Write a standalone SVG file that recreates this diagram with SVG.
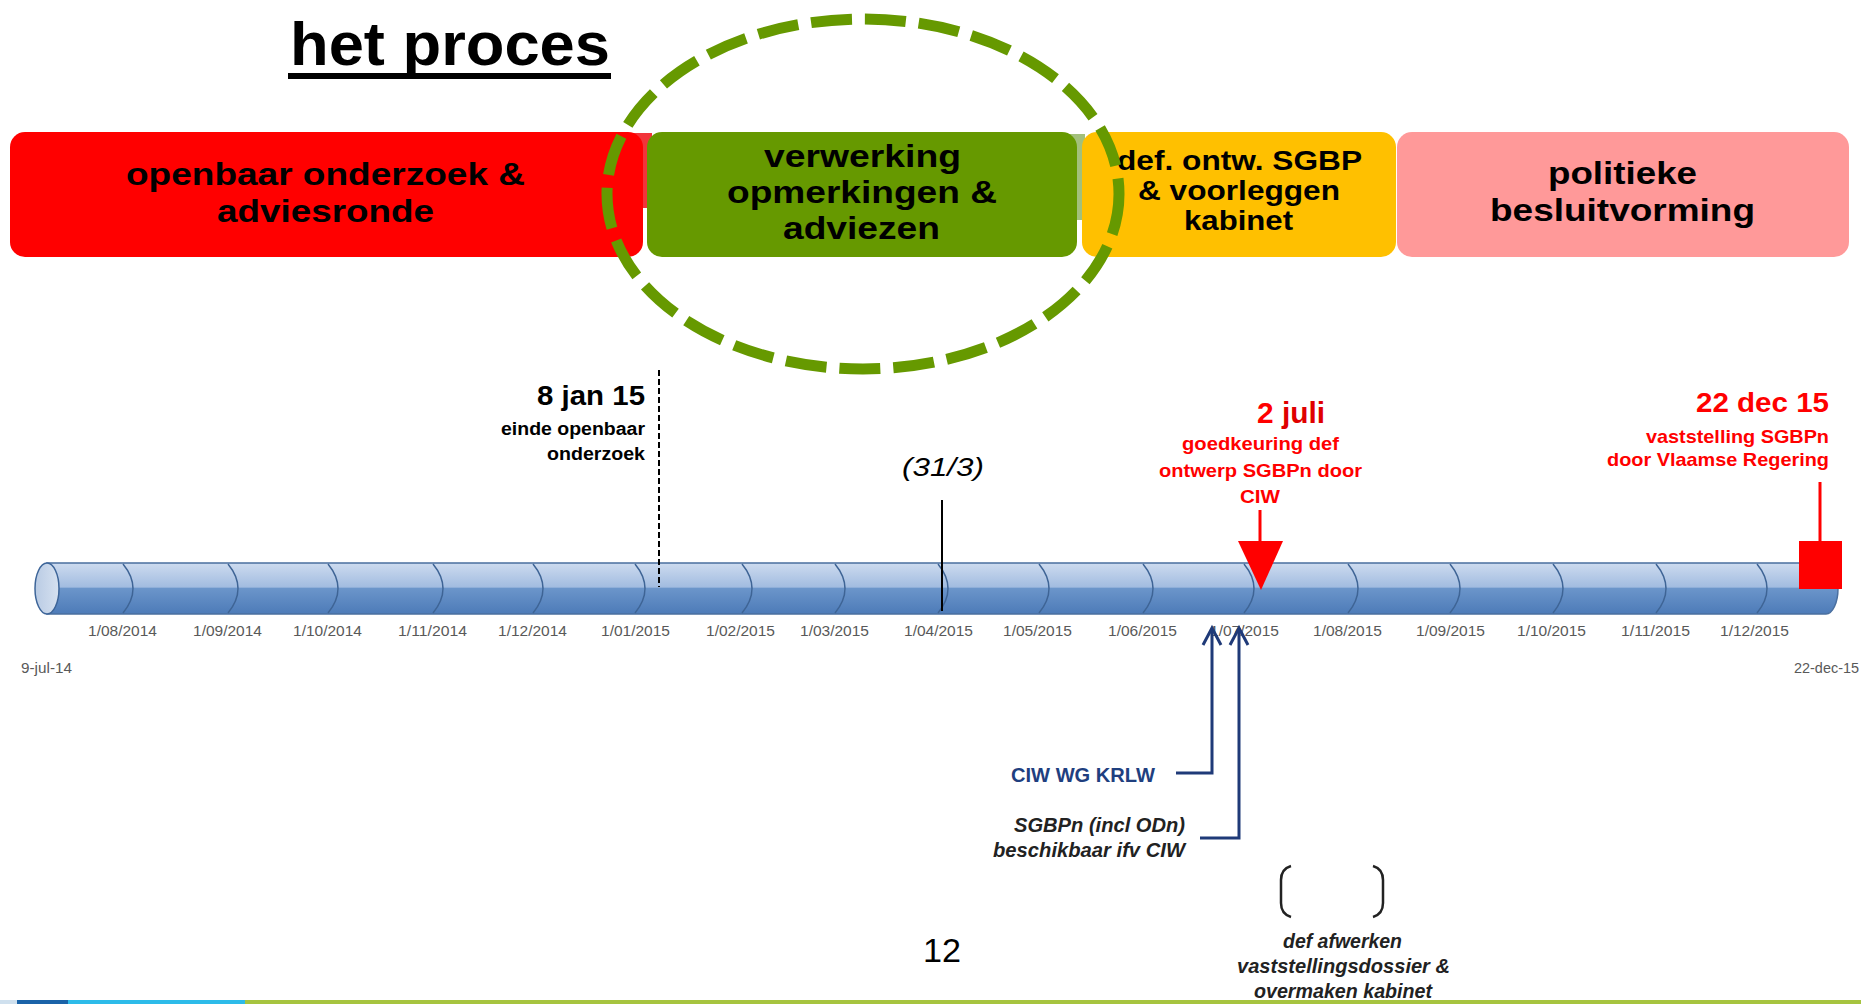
<svg xmlns="http://www.w3.org/2000/svg" width="1861" height="1004" viewBox="0 0 1861 1004">
<defs>
<linearGradient id="tube" x1="0" y1="0" x2="0" y2="1">
<stop offset="0" stop-color="#cddbef"/>
<stop offset="0.47" stop-color="#a2bce0"/>
<stop offset="0.5" stop-color="#6b95ca"/>
<stop offset="1" stop-color="#4d7bb8"/>
</linearGradient>
<linearGradient id="cap" x1="0" y1="0" x2="1" y2="0">
<stop offset="0" stop-color="#b9cbe4"/>
<stop offset="1" stop-color="#d6e1f0"/>
</linearGradient>
<style>
.t{font-family:"Liberation Sans",Arial,sans-serif}
.bx{font-family:"Liberation Sans",Arial,sans-serif;font-weight:bold;fill:#000;font-size:31px}
.yl{font-size:27px}
.dl{font-family:"Liberation Sans",Arial,sans-serif;font-size:15px;fill:#595959}
.rd{font-family:"Liberation Sans",Arial,sans-serif;font-weight:bold;fill:#ff0000}
.bi{font-family:"Liberation Sans",Arial,sans-serif;font-weight:bold;font-style:italic;fill:#222;font-size:20px}
.mon{fill:none;stroke:#3e6495;stroke-width:1.5}
.nav{fill:none;stroke:#1f3a78;stroke-width:3}
</style>
</defs>
<rect width="1861" height="1004" fill="#ffffff"/>

<g id="title">
<text class="t" x="290" y="65" font-size="62" font-weight="bold" textLength="320" lengthAdjust="spacingAndGlyphs">het proces</text>
<rect x="288" y="73" width="323" height="6" fill="#000"/>
</g>

<g id="phases">
<rect x="628" y="133" width="24" height="75" fill="#f2343a"/>
<rect x="1068" y="134" width="17" height="86" fill="#a3c07c"/>
<g id="phase-openbaar">
<rect x="10" y="132" width="633" height="125" rx="15" fill="#ff0000"/>
<text class="bx" x="126" y="185" textLength="399" lengthAdjust="spacingAndGlyphs">openbaar onderzoek &amp;</text>
<text class="bx" x="217" y="222" textLength="217" lengthAdjust="spacingAndGlyphs">adviesronde</text>
</g>
<g id="phase-verwerking">
<rect x="647" y="132" width="430" height="125" rx="15" fill="#669900"/>
<text class="bx" x="764" y="167" textLength="197" lengthAdjust="spacingAndGlyphs">verwerking</text>
<text class="bx" x="727" y="203" textLength="270" lengthAdjust="spacingAndGlyphs">opmerkingen &amp;</text>
<text class="bx" x="783" y="239" textLength="157" lengthAdjust="spacingAndGlyphs">adviezen</text>
</g>
<g id="phase-def">
<rect x="1082" y="132" width="314" height="125" rx="15" fill="#ffc000"/>
<text class="bx yl" x="1117" y="170" textLength="245" lengthAdjust="spacingAndGlyphs">def. ontw. SGBP</text>
<text class="bx yl" x="1138" y="200" textLength="202" lengthAdjust="spacingAndGlyphs">&amp; voorleggen</text>
<text class="bx yl" x="1184" y="230" textLength="109" lengthAdjust="spacingAndGlyphs">kabinet</text>
</g>
<g id="phase-politiek">
<rect x="1397" y="132" width="452" height="125" rx="15" fill="#ff9999"/>
<text class="bx" x="1548" y="184" textLength="149" lengthAdjust="spacingAndGlyphs">politieke</text>
<text class="bx" x="1490" y="221" textLength="265" lengthAdjust="spacingAndGlyphs">besluitvorming</text>
</g>
</g>

<g id="highlight">
<ellipse cx="863" cy="194" rx="256" ry="175" fill="none" stroke="#669900" stroke-width="11" stroke-dasharray="41 13"/>
</g>

<g id="timeline">
<path d="M47,563 H1826 A12,25.5 0 0 1 1826,614 H47 Z" fill="url(#tube)" stroke="#4a6f9f" stroke-width="1.5"/>
<ellipse cx="47" cy="588.5" rx="12" ry="25.5" fill="url(#cap)" stroke="#3d6599" stroke-width="1.5"/>
<g id="month-marks">
<path class="mon" d="M123,564 Q143,588.5 123,613"/>
<path class="mon" d="M228,564 Q248,588.5 228,613"/>
<path class="mon" d="M328,564 Q348,588.5 328,613"/>
<path class="mon" d="M433,564 Q453,588.5 433,613"/>
<path class="mon" d="M533,564 Q553,588.5 533,613"/>
<path class="mon" d="M635,564 Q655,588.5 635,613"/>
<path class="mon" d="M742,564 Q762,588.5 742,613"/>
<path class="mon" d="M835,564 Q855,588.5 835,613"/>
<path class="mon" d="M938,564 Q958,588.5 938,613"/>
<path class="mon" d="M1039,564 Q1059,588.5 1039,613"/>
<path class="mon" d="M1143,564 Q1163,588.5 1143,613"/>
<path class="mon" d="M1244,564 Q1264,588.5 1244,613"/>
<path class="mon" d="M1348,564 Q1368,588.5 1348,613"/>
<path class="mon" d="M1450,564 Q1470,588.5 1450,613"/>
<path class="mon" d="M1553,564 Q1573,588.5 1553,613"/>
<path class="mon" d="M1656,564 Q1676,588.5 1656,613"/>
<path class="mon" d="M1757,564 Q1777,588.5 1757,613"/>
</g>
<g id="date-labels">
<text class="dl" x="88" y="636" textLength="69" lengthAdjust="spacingAndGlyphs">1/08/2014</text>
<text class="dl" x="193" y="636" textLength="69" lengthAdjust="spacingAndGlyphs">1/09/2014</text>
<text class="dl" x="293" y="636" textLength="69" lengthAdjust="spacingAndGlyphs">1/10/2014</text>
<text class="dl" x="398" y="636" textLength="69" lengthAdjust="spacingAndGlyphs">1/11/2014</text>
<text class="dl" x="498" y="636" textLength="69" lengthAdjust="spacingAndGlyphs">1/12/2014</text>
<text class="dl" x="601" y="636" textLength="69" lengthAdjust="spacingAndGlyphs">1/01/2015</text>
<text class="dl" x="706" y="636" textLength="69" lengthAdjust="spacingAndGlyphs">1/02/2015</text>
<text class="dl" x="800" y="636" textLength="69" lengthAdjust="spacingAndGlyphs">1/03/2015</text>
<text class="dl" x="904" y="636" textLength="69" lengthAdjust="spacingAndGlyphs">1/04/2015</text>
<text class="dl" x="1003" y="636" textLength="69" lengthAdjust="spacingAndGlyphs">1/05/2015</text>
<text class="dl" x="1108" y="636" textLength="69" lengthAdjust="spacingAndGlyphs">1/06/2015</text>
<text class="dl" x="1210" y="636" textLength="69" lengthAdjust="spacingAndGlyphs">1/07/2015</text>
<text class="dl" x="1313" y="636" textLength="69" lengthAdjust="spacingAndGlyphs">1/08/2015</text>
<text class="dl" x="1416" y="636" textLength="69" lengthAdjust="spacingAndGlyphs">1/09/2015</text>
<text class="dl" x="1517" y="636" textLength="69" lengthAdjust="spacingAndGlyphs">1/10/2015</text>
<text class="dl" x="1621" y="636" textLength="69" lengthAdjust="spacingAndGlyphs">1/11/2015</text>
<text class="dl" x="1720" y="636" textLength="69" lengthAdjust="spacingAndGlyphs">1/12/2015</text>
<text class="dl" x="21" y="673" font-size="14" textLength="51" lengthAdjust="spacingAndGlyphs">9-jul-14</text>
<text class="dl" x="1794" y="673" font-size="14" textLength="65" lengthAdjust="spacingAndGlyphs">22-dec-15</text>
</g>
</g>

<g id="connectors">
<line x1="659" y1="370" x2="659" y2="587" stroke="#000" stroke-width="2" stroke-dasharray="6 3"/>
<line x1="942" y1="500" x2="942" y2="611" stroke="#000" stroke-width="2"/>
<line x1="1260" y1="510" x2="1260" y2="543" stroke="#ff0000" stroke-width="3"/>
<polygon points="1238,541 1283,541 1261,590" fill="#ff0000"/>
<line x1="1820" y1="482" x2="1820" y2="542" stroke="#ff0000" stroke-width="3"/>
<rect x="1799" y="541" width="43" height="48" fill="#ff0000"/>
<path class="nav" d="M1176,773 H1212 V629"/>
<path class="nav" d="M1203,645 L1212,628 L1221,645"/>
<path class="nav" d="M1200,838 H1239 V629"/>
<path class="nav" d="M1230,645 L1239,628 L1248,645"/>
<path d="M1291,866 Q1281,869 1281,880 L1281,903 Q1281,914 1291,917" fill="none" stroke="#222" stroke-width="2.5"/>
<path d="M1373,866 Q1383,869 1383,880 L1383,903 Q1383,914 1373,917" fill="none" stroke="#222" stroke-width="2.5"/>
</g>

<g id="milestone-8jan">
<text class="t" x="537" y="405" font-size="28" font-weight="bold" textLength="108" lengthAdjust="spacingAndGlyphs">8 jan 15</text>
<text class="t" x="501" y="435" font-size="18" font-weight="bold" textLength="144" lengthAdjust="spacingAndGlyphs">einde openbaar</text>
<text class="t" x="547" y="460" font-size="18" font-weight="bold" textLength="98" lengthAdjust="spacingAndGlyphs">onderzoek</text>
</g>

<g id="milestone-31-3">
<text class="t" x="902" y="476" font-size="26" font-style="italic" textLength="82" lengthAdjust="spacingAndGlyphs">(31/3)</text>
</g>

<g id="milestone-2juli">
<text class="rd" x="1257" y="423" font-size="29" textLength="68" lengthAdjust="spacingAndGlyphs">2 <tspan fill="#e00000">juli</tspan></text>
<text class="rd" x="1182" y="450" font-size="19" textLength="157" lengthAdjust="spacingAndGlyphs">goedkeuring def</text>
<text class="rd" x="1159" y="477" font-size="19" textLength="203" lengthAdjust="spacingAndGlyphs">ontwerp SGBPn door</text>
<text class="rd" x="1240" y="503" font-size="19" textLength="40" lengthAdjust="spacingAndGlyphs">CIW</text>
</g>

<g id="milestone-22dec">
<text class="rd" x="1696" y="412" font-size="28" textLength="133" lengthAdjust="spacingAndGlyphs">22 dec 15</text>
<text class="rd" x="1646" y="443" font-size="19" textLength="183" lengthAdjust="spacingAndGlyphs">vaststelling SGBPn</text>
<text class="rd" x="1607" y="466" font-size="19" textLength="222" lengthAdjust="spacingAndGlyphs">door Vlaamse Regering</text>
</g>

<g id="ciw-wg">
<text class="t" x="1011" y="782" font-size="20" font-weight="bold" fill="#1f3f7f" textLength="144" lengthAdjust="spacingAndGlyphs">CIW WG KRLW</text>
</g>

<g id="sgbpn-beschikbaar">
<text class="bi" x="1014" y="832" textLength="171" lengthAdjust="spacingAndGlyphs">SGBPn (incl ODn)</text>
<text class="bi" x="993" y="857" textLength="192" lengthAdjust="spacingAndGlyphs">beschikbaar ifv CIW</text>
</g>

<g id="def-afwerken">
<text class="bi" x="1283" y="948" textLength="119" lengthAdjust="spacingAndGlyphs">def afwerken</text>
<text class="bi" x="1237" y="973" textLength="213" lengthAdjust="spacingAndGlyphs">vaststellingsdossier &amp;</text>
<text class="bi" x="1254" y="998" textLength="178" lengthAdjust="spacingAndGlyphs">overmaken kabinet</text>
</g>

<g id="page-number">
<text class="t" x="923" y="962" font-size="34" textLength="38" lengthAdjust="spacingAndGlyphs">12</text>
</g>

<g id="footer-bar">
<rect x="0" y="1000" width="17" height="4" fill="#cfe0ee"/>
<rect x="17" y="1000" width="51" height="4" fill="#1a63a8"/>
<rect x="68" y="1000" width="177" height="4" fill="#2dbbe9"/>
<rect x="245" y="1000" width="1616" height="4" fill="#a6c43f"/>
</g>
</svg>
